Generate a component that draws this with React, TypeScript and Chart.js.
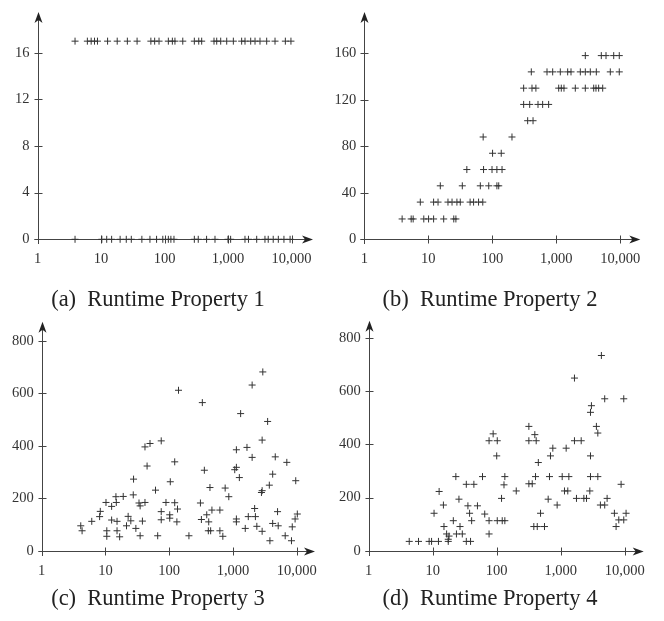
import { useEffect, useRef } from "react";
import { Chart, registerables } from "chart.js";

Chart.register(...registerables);

// ---------- data ----------
const xTickValues = [1, 10, 100, 1000, 10000];

const aYTicks = [0, 4, 8, 12, 16];
const bYTicks = [0, 40, 80, 120, 160];
const cYTicks = [0, 200, 400, 600, 800];
const dYTicks = [0, 200, 400, 600, 800];

const captionA = "(a)  Runtime Property 1";
const captionB = "(b)  Runtime Property 2";
const captionC = "(c)  Runtime Property 3";
const captionD = "(d)  Runtime Property 4";

// Panel (a)
const aX = [
  3.9, 6.1, 7.0, 7.9, 8.8, 12.7, 18, 26, 37, 61, 70, 82, 115, 133, 146, 194, 295, 346, 385, 602, 664, 767, 954,
  1214, 1640, 1852, 2277, 2663, 3190, 4064, 5500, 8000, 9800,
  3.9, 10.3, 12.3, 14.7, 20, 25, 30, 44, 59, 75, 94, 115, 126, 141, 295, 340, 460, 624, 1000, 1100, 1850, 2100,
  2830, 3820, 4300, 5150, 6200, 7600, 9500,
];
const aY = [
  17, 17, 17, 17, 17, 17, 17, 17, 17, 17, 17, 17, 17, 17, 17, 17, 17, 17, 17, 17, 17, 17, 17,
  17, 17, 17, 17, 17, 17, 17, 17, 17, 17,
  0, 0, 0, 0, 0, 0, 0, 0, 0, 0, 0, 0, 0, 0, 0, 0, 0, 0, 0, 0, 0, 0,
  0, 0, 0, 0, 0, 0, 0,
];

// Panel (b)
const bX = [
  2840, 5050, 5980, 7890, 9640,
  407, 716, 878, 1155, 1506, 1698, 2373, 2840, 3400, 4220, 6980, 9640,
  309, 417, 480, 1090, 1197, 1318, 1982, 2840, 3840, 4170, 4590, 5310,
  309, 384, 518, 612, 759,
  357, 433,
  72, 203,
  101, 138,
  40, 73, 99, 118, 142,
  15.4, 34, 65, 88, 118, 126,
  7.5, 12.1, 14.2, 20.3, 23.5, 28, 31.6, 45, 51, 61, 71,
  3.9, 5.4, 5.8, 8.5, 10.1, 12.1, 17.4, 25, 27,
];
const bY = [
  158, 158, 158, 158, 158,
  144, 144, 144, 144, 144, 144, 144, 144, 144, 144, 144, 144,
  130, 130, 130, 130, 130, 130, 130, 130, 130, 130, 130, 130,
  116, 116, 116, 116, 116,
  102, 102,
  88, 88,
  74, 74,
  60, 60, 60, 60, 60,
  46, 46, 46, 46, 46, 46,
  32, 32, 32, 32, 32, 32, 32, 32, 32, 32, 32,
  17.5, 17.5, 17.5, 17.5, 17.5, 17.5, 17.5, 17.5, 17.5,
];

// Panel (c)
const cX = [
  4.1, 4.3, 6.1, 8.3, 8.1, 10.2, 10.5, 10.5, 12.5, 12.5, 14.8, 14.6, 15.2, 15.2, 16.7, 19, 21.4, 22.7, 25, 27.6,
  27.3, 30, 33.6, 35, 35, 38, 41.7, 41.7, 45, 50, 61, 66, 75, 75, 75, 89, 102, 102, 104, 122,
  122, 132, 135, 140, 204, 309, 320, 331, 356, 388, 417, 436, 411, 447, 468, 624, 624, 694, 755, 861,
  1067, 1132, 1132, 1132, 1132, 1260, 1320, 1560, 1660, 1740, 2000, 2000, 2190, 2250, 2370, 2870, 2800, 2870, 2940, 2870,
  3500, 3720, 3800, 4200, 4200, 4610, 5010, 5130, 6600, 7000, 8280, 8520, 9440, 9660, 10230,
];
const cY = [
  95, 76, 112, 150, 130, 184, 76, 55, 169, 117, 184, 206, 112, 76, 53, 207, 95, 131, 114, 273,
  213, 85, 182, 171, 57, 113, 184, 396, 323, 409, 231, 57, 419, 149, 118, 184, 137, 124, 263, 339,
  183, 110, 159, 612, 57, 182, 119, 565, 307, 137, 110, 241, 76, 76, 155, 155, 76, 55, 239, 206,
  309, 318, 385, 121, 110, 279, 523, 85, 394, 130, 356, 632, 161, 130, 93, 229, 222, 422, 682, 74,
  493, 250, 38, 292, 104, 358, 149, 95, 57, 337, 38, 91, 121, 267, 140,
];

// Panel (d)
const dX = [
  4.3, 6.0, 8.8, 9.6, 12.3, 17.5, 33.5, 39,
  12.6, 10.5, 14.7, 15, 16.5, 18, 17.5, 21, 23, 25.7, 26.7, 23.5, 29, 33.5, 35.5, 37.7, 40.6, 44, 50, 60, 65,
  76, 76, 76, 88, 102, 100, 102, 119, 122, 134, 130, 134, 202, 318, 318, 318, 359, 394, 414, 404, 380, 430,
  558, 447, 484, 637, 668, 692, 753, 880, 1055, 1146, 1217, 1290, 1340, 1640, 1640, 1763, 2090, 2300, 2530,
  2850, 2920, 2920, 2920, 3020, 3610, 3800, 3800, 4320, 4170, 4870, 4870, 5310, 6900, 7330, 8080, 8780, 9660,
  9660, 10500,
];
const dY = [
  35, 35, 35, 35, 35, 35, 35, 35,
  223, 141, 172, 91, 63, 55, 43, 113, 279, 194, 91, 63, 63, 250, 169, 141, 113, 250, 169, 279, 138,
  113, 63, 414, 440, 414, 357, 113, 197, 113, 113, 248, 279, 225, 468, 414, 252, 252, 437, 414, 279, 91, 91,
  91, 332, 141, 194, 279, 357, 386, 172, 279, 225, 386, 225, 279, 414, 650, 197, 414, 197, 197,
  225, 279, 357, 521, 546, 468, 443, 279, 735, 172, 172, 572, 197, 141, 91, 116, 250, 116,
  572, 141,
];

// ---------- styling / layout ----------
const FONT = "'Liberation Serif', 'Times New Roman', serif";
const AXIS_COLOR = "#444";
const POINT_COLOR = "#333";
const TEXT_COLOR = "#333";

type PanelProps = {
  left: number;
  top: number;
  width: number;
  height: number;
  plotLeft: number;
  plotRight: number;
  plotTop: number;
  plotBottom: number;
  xMax: number;
  yMax: number;
  yTicks: number[];
  xs: number[];
  ys: number[];
  xLabelPad: number;
};

const arrowAxesPlugin = {
  id: "arrowAxes",
  beforeDatasetsDraw(chart: any) {
    const { ctx, chartArea: ca, scales } = chart;
    const xs = scales.x;
    const ys = scales.y;
    const x0 = Math.round(xs.getPixelForValue(1)) + 0.5;
    const y0 = Math.round(ys.getPixelForValue(0)) + 0.5;
    ctx.save();
    ctx.strokeStyle = AXIS_COLOR;
    ctx.fillStyle = "#222";
    ctx.lineWidth = 1;
    ctx.beginPath();
    // y axis
    ctx.moveTo(x0, y0 + 4.5);
    ctx.lineTo(x0, ca.top + 6);
    // x axis
    ctx.moveTo(x0 - 4, y0);
    ctx.lineTo(ca.right - 6, y0);
    // y ticks
    ys.ticks.forEach((t: any) => {
      const py = Math.round(ys.getPixelForValue(t.value)) + 0.5;
      ctx.moveTo(x0 - 4, py);
      ctx.lineTo(x0 + 4, py);
    });
    // x ticks
    xs.ticks.forEach((t: any) => {
      if (t.value === 1) return;
      const px = Math.round(xs.getPixelForValue(t.value)) + 0.5;
      ctx.moveTo(px, y0 - 4);
      ctx.lineTo(px, y0 + 4);
    });
    ctx.stroke();
    // arrowheads
    const top = ca.top;
    ctx.beginPath();
    ctx.moveTo(x0, top);
    ctx.lineTo(x0 - 4, top + 11);
    ctx.lineTo(x0, top + 8);
    ctx.lineTo(x0 + 4, top + 11);
    ctx.closePath();
    ctx.fill();
    const right = ca.right;
    ctx.beginPath();
    ctx.moveTo(right, y0);
    ctx.lineTo(right - 11, y0 - 4);
    ctx.lineTo(right - 8, y0);
    ctx.lineTo(right - 11, y0 + 4);
    ctx.closePath();
    ctx.fill();
    ctx.restore();
  },
};

function Panel(p: PanelProps) {
  const ref = useRef<HTMLCanvasElement | null>(null);
  useEffect(() => {
    if (!ref.current) return;
    const points = p.xs.map((x, i) => ({ x, y: p.ys[i] }));
    const chart = new Chart(ref.current, {
      type: "scatter",
      data: {
        datasets: [
          {
            data: points,
            pointStyle: "cross",
            pointRadius: 3.5,
            pointBorderWidth: 1,
            borderColor: POINT_COLOR,
            backgroundColor: POINT_COLOR,
            borderWidth: 1,
          },
        ],
      },
      options: {
        animation: false,
        responsive: false,
        events: [],
        clip: false as any,
        layout: {
          padding: { top: p.plotTop, right: p.width - p.plotRight, left: 0, bottom: 0 },
        },
        plugins: {
          legend: { display: false },
          tooltip: { enabled: false },
          title: { display: false },
        },
        scales: {
          x: {
            type: "logarithmic",
            min: 1,
            max: p.xMax,
            grid: { display: false, drawTicks: false },
            border: { display: false },
            afterBuildTicks: (scale: any) => {
              scale.ticks = xTickValues.map((v) => ({ value: v }));
            },
            afterFit: (scale: any) => {
              scale.height = p.height - p.plotBottom;
              scale.paddingLeft = 0;
              scale.paddingRight = 0;
              scale.paddingTop = 0;
              scale.paddingBottom = 0;
            },
            ticks: {
              autoSkip: false,
              maxRotation: 0,
              minRotation: 0,
              padding: p.xLabelPad,
              color: TEXT_COLOR,
              font: { family: FONT, size: 14.5 },
              callback: (v: any) => Number(v).toLocaleString("en-US"),
            },
          },
          y: {
            type: "linear",
            min: 0,
            max: p.yMax,
            grid: { display: false, drawTicks: false },
            border: { display: false },
            afterBuildTicks: (scale: any) => {
              scale.ticks = p.yTicks.map((v) => ({ value: v }));
            },
            afterFit: (scale: any) => {
              scale.width = p.plotLeft;
              scale.paddingLeft = 0;
              scale.paddingRight = 0;
              scale.paddingTop = 0;
              scale.paddingBottom = 0;
            },
            ticks: {
              autoSkip: false,
              padding: 8,
              color: TEXT_COLOR,
              font: { family: FONT, size: 14.5 },
              callback: (v: any) => String(v),
            },
          },
        },
      },
      plugins: [arrowAxesPlugin],
    });
    return () => chart.destroy();
  }, []);
  return (
    <canvas
      ref={ref}
      width={p.width}
      height={p.height}
      style={{ position: "absolute", left: p.left, top: p.top, width: p.width, height: p.height }}
    />
  );
}

function Caption({ text, left, top }: { text: string; left: number; top: number }) {
  return (
    <div
      style={{
        position: "absolute",
        left,
        top,
        width: 316,
        textAlign: "center",
        fontFamily: FONT,
        fontSize: 22.5,
        lineHeight: "22px",
        color: "#222",
        whiteSpace: "pre",
      }}
    >
      {text}
    </div>
  );
}

export default function App() {
  return (
    <div style={{ position: "fixed", left: 0, top: 0, width: 664, height: 621, background: "#fff" }}>
      <Panel
        left={0} top={0} width={332} height={280}
        plotLeft={37.5} plotRight={313} plotTop={12} plotBottom={239.3}
        xMax={21800} yMax={19.5} yTicks={aYTicks} xs={aX} ys={aY} xLabelPad={11}
      />
      <Panel
        left={332} top={0} width={332} height={280}
        plotLeft={32.3} plotRight={308.3} plotTop={12} plotBottom={239.3}
        xMax={20540} yMax={195.5} yTicks={bYTicks} xs={bX} ys={bY} xLabelPad={11}
      />
      <Panel
        left={0} top={300} width={332} height={290}
        plotLeft={41.7} plotRight={315} plotTop={21.7} plotBottom={250.7}
        xMax={19370} yMax={873.6} yTicks={cYTicks} xs={cX} ys={cY} xLabelPad={12}
      />
      <Panel
        left={332} top={300} width={332} height={290}
        plotLeft={36.7} plotRight={311.7} plotTop={20.7} plotBottom={250.7}
        xMax={19800} yMax={866} yTicks={dYTicks} xs={dX} ys={dY} xLabelPad={12}
      />
      <Caption text={captionA} left={0} top={288} />
      <Caption text={captionB} left={332} top={288} />
      <Caption text={captionC} left={0} top={587} />
      <Caption text={captionD} left={332} top={587} />
    </div>
  );
}
